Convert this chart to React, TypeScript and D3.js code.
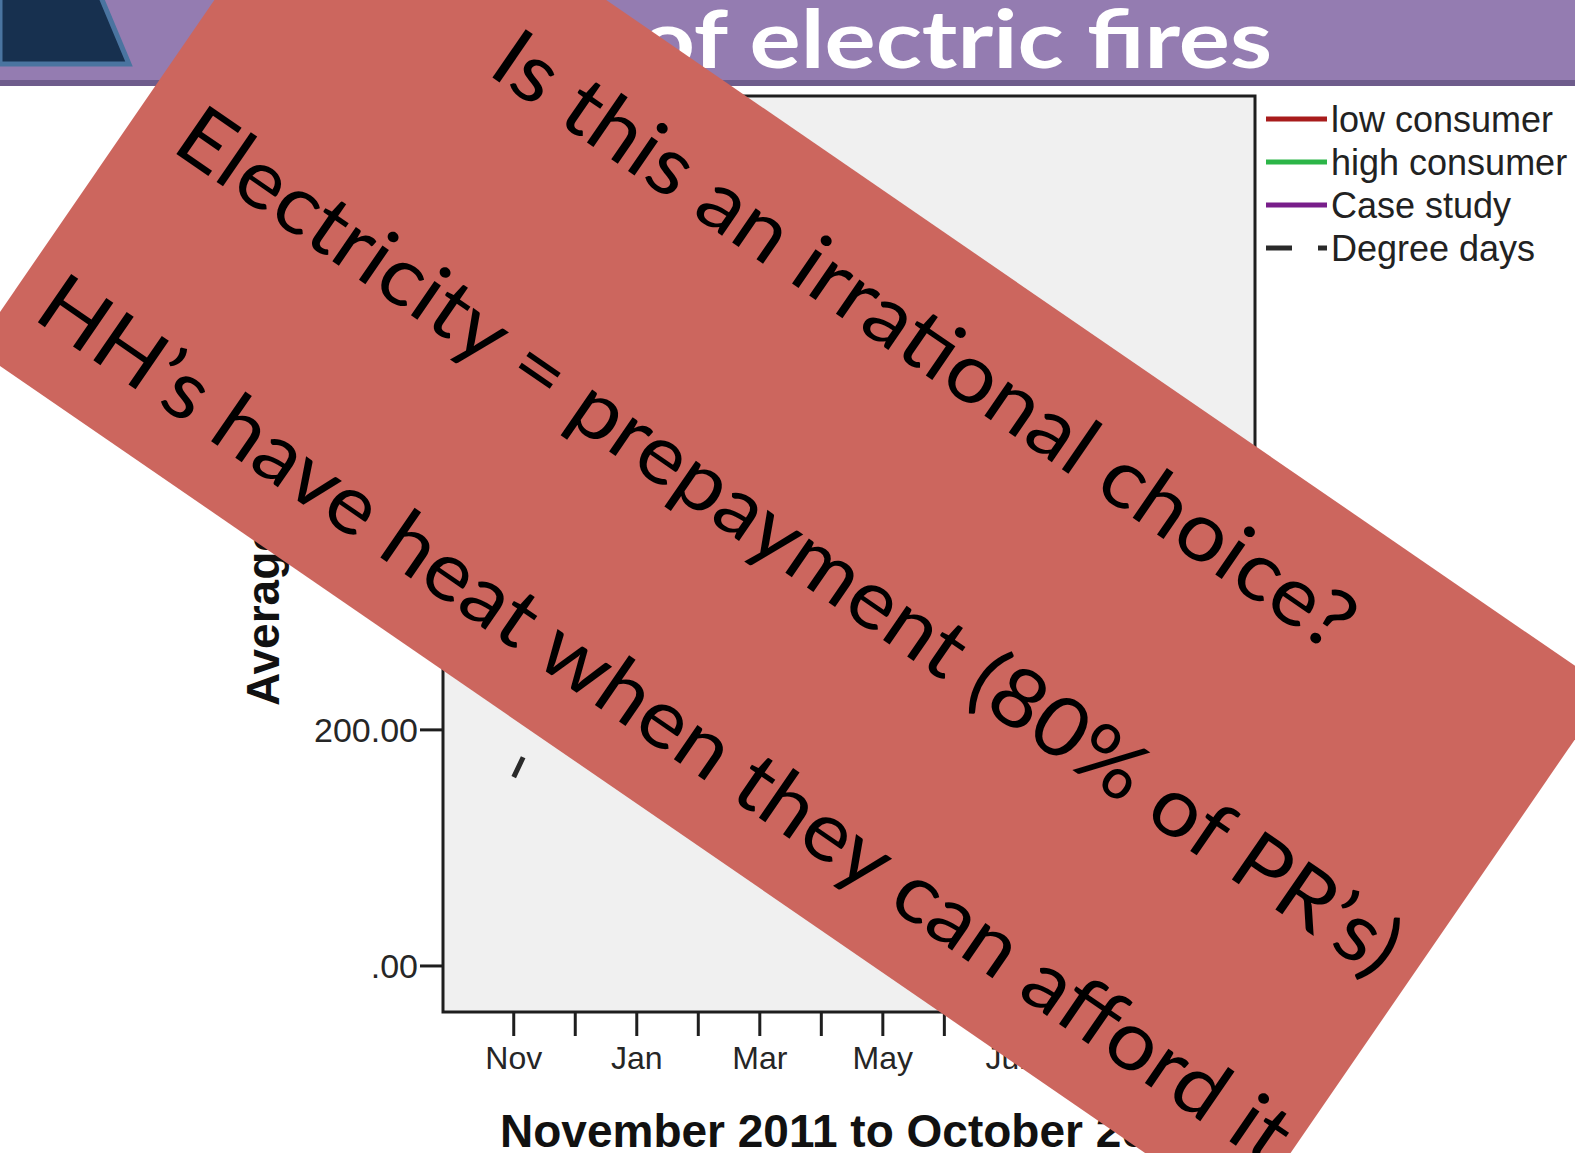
import React from 'react';
import * as d3 from 'd3';

// ---- data ----
const months = ['Nov', 'Dec', 'Jan', 'Feb', 'Mar', 'Apr', 'May', 'Jun', 'Jul', 'Aug', 'Sep', 'Oct'];
const monthTickLabels = ['Nov', 'Jan', 'Mar', 'May', 'Jul', 'Sep'];
const lowConsumer = [250, 300, 310, 320, 270, 240, 200, 180, 170, 165, 180, 230];
const highConsumer = [520, 640, 660, 700, 560, 500, 420, 380, 360, 350, 380, 440];
const caseStudy = [300, 420, 450, 480, 380, 300, 240, 200, 190, 185, 210, 290];
const degreeDays = [160, 270, 290, 310, 240, 220, 150, 100, 70, 60, 90, 170];
const yTickValues = [0, 200, 400, 600];
const seriesNames = ['low consumer', 'high consumer', 'Case study', 'Degree days'];
const seriesColors = ['#A81C1C', '#2CB548', '#781E8A', '#2A2A2A'];
const titleText = 'of electric fires';
const yAxisTitle = 'Average kWh per month';
const xAxisTitle = 'November 2011 to October 2012';
const bannerLines = [
  'Is this an irrational choice?',
  'Electricity = prepayment (80% of PR\u2019s)',
  'HH\u2019s have heat when they can afford it',
];

const W = 1575;
const H = 1153;

export default function App() {
  const x = d3.scaleLinear().domain([-1.15, 12.05]).range([443, 1255]);
  const y = d3.scaleLinear().domain([-39, 737]).range([1012, 96]);
  const [x0, x1] = x.range();
  const [yb, yt] = y.range();

  const line = d3
    .line<number>()
    .x((_, i) => x(i))
    .y((d) => y(d));

  const series = [lowConsumer, highConsumer, caseStudy, degreeDays];
  const arial = 'Liberation Sans, Arial, sans-serif';
  const lato = 'Lato, Carlito, Calibri, sans-serif';

  // banner geometry (rotated text box)
  const bannerCx = 792;
  const bannerCy = 519;
  const bannerAngle = 34.5;
  const bannerW = 1540;
  const bannerH = 645;
  const bannerLineY = [-194, 48, 265];
  const bannerLineX = [-505, -722, -741];
  const bannerLineLen = [1026, 1465, 1500];

  return (
    <svg
      width={W}
      height={H}
      viewBox={`0 0 ${W} ${H}`}
      style={{ position: 'absolute', left: 0, top: 0, background: '#ffffff' }}
    >
      <rect x={0} y={0} width={W} height={H} fill="#ffffff" />

      {/* title bar */}
      <rect x={0} y={0} width={W} height={81} fill="#947CB1" />
      <rect x={0} y={80} width={W} height={6} fill="#6E5C8C" />
      <polygon points="0,-10 98,-10 129,64 0,64" fill="#17304F" stroke="#4A74A0" strokeWidth={5} />
      <text
        x={640}
        y={68}
        fill="#ffffff"
        fontFamily={lato}
        fontWeight={700}
        fontSize={80}
        textLength={632}
        lengthAdjust="spacingAndGlyphs"
      >
        {titleText}
      </text>

      {/* plot area */}
      <rect x={x0} y={yt} width={x1 - x0} height={yb - yt} fill="#F0F0F0" stroke="#1E1E1E" strokeWidth={3} />

      {/* y axis ticks */}
      {yTickValues.map((v) => (
        <g key={`yt${v}`}>
          <line x1={x0 - 23} x2={x0} y1={y(v)} y2={y(v)} stroke="#1E1E1E" strokeWidth={3} />
          <text x={x0 - 25} y={y(v) + 12} textAnchor="end" fontFamily={arial} fontSize={34} fill="#262626">
            {v === 0 ? '.00' : v.toFixed(2)}
          </text>
        </g>
      ))}

      {/* x axis ticks */}
      {months.map((m, i) => (
        <line key={`xt${m}`} x1={x(i)} x2={x(i)} y1={yb} y2={yb + 24} stroke="#1E1E1E" strokeWidth={3} />
      ))}
      {months.map((m, i) =>
        monthTickLabels.includes(m) ? (
          <text key={`xl${m}`} x={x(i)} y={1069} textAnchor="middle" fontFamily={arial} fontSize={32} fill="#262626">
            {m}
          </text>
        ) : null
      )}

      {/* axis titles */}
      <text
        transform={`translate(279,706) rotate(-90)`}
        fontFamily={arial}
        fontWeight={700}
        fontSize={46}
        fill="#111"
      >
        {yAxisTitle}
      </text>
      <text x={(x0 + x1) / 2} y={1147} textAnchor="middle" fontFamily={arial} fontWeight={700} fontSize={46} fill="#111">
        {xAxisTitle}
      </text>

      {/* series */}
      {series.map((s, k) => (
        <path
          key={`s${k}`}
          d={line(s) || ''}
          fill="none"
          stroke={seriesColors[k]}
          strokeWidth={5}
          strokeDasharray={k === 3 ? '22 32 7 32' : undefined}
          strokeLinejoin="round"
        />
      ))}

      {/* legend */}
      {seriesNames.map((name, k) => {
        const ly = 119 + k * 43;
        return (
          <g key={`lg${k}`}>
            {k < 3 ? (
              <line x1={1266} x2={1327} y1={ly} y2={ly} stroke={seriesColors[k]} strokeWidth={5} />
            ) : (
              <>
                <line x1={1266} x2={1292} y1={ly} y2={ly} stroke={seriesColors[k]} strokeWidth={5} />
                <line x1={1318} x2={1327} y1={ly} y2={ly} stroke={seriesColors[k]} strokeWidth={5} />
              </>
            )}
            <text x={1331} y={ly + 13} fontFamily={arial} fontSize={36} fill="#222">
              {name}
            </text>
          </g>
        );
      })}

      {/* overlay banner */}
      <g transform={`translate(${bannerCx},${bannerCy}) rotate(${bannerAngle})`}>
        <rect x={-bannerW / 2} y={-bannerH / 2} width={bannerW} height={bannerH} fill="#CC665E" />
        {bannerLines.map((t, i) => (
          <text
            key={`bl${i}`}
            x={bannerLineX[i]}
            y={bannerLineY[i]}
            fontFamily={lato}
            fontSize={82}
            fill="#000"
            textLength={bannerLineLen[i]}
            lengthAdjust="spacingAndGlyphs"
          >
            {t}
          </text>
        ))}
      </g>
    </svg>
  );
}
